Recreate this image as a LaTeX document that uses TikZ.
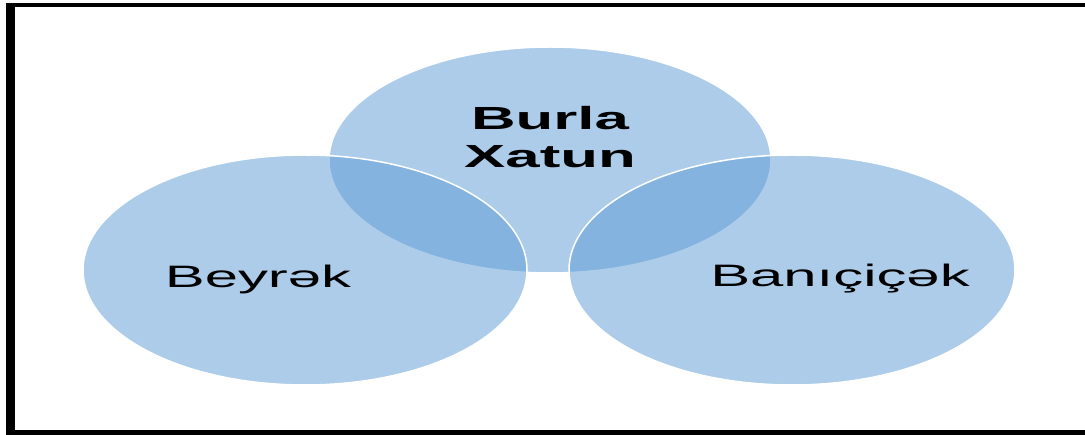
\documentclass[tikz,border=0pt]{standalone}
\usepackage{fontspec}
\setmainfont{Liberation Sans}
\definecolor{vennblue}{HTML}{5B9BD5}
\begin{document}
\begin{tikzpicture}[x=1pt,y=-1pt,
  venn/.style={fill=vennblue, fill opacity=0.5, draw=white, draw opacity=1, line width=1.5pt},
  lbl/.style={inner sep=0pt, xscale=1.93, text=black},
  framebar/.style={fill=black}]
\useasboundingbox (0,0) rectangle (1085,435);
\fill[white] (0,0) rectangle (1085,435);
% frame lines (top, left, bottom)
\path[framebar] (6,3) rectangle (1085,7);
\path[framebar] (6,3) rectangle (15,435);
\path[framebar] (6,430) rectangle (1085,435);
% three overlapping sets
\path[venn] (550,160) ellipse [x radius=221, y radius=113];
\path[venn] (305,270) ellipse [x radius=222, y radius=115];
\path[venn] (792,270) ellipse [x radius=223, y radius=115];
% labels
\node[lbl, align=center, font=\bfseries\fontsize{32}{38}\selectfont] (burla) at (550,137) {Burla\\Xatun};
\node[lbl, anchor=base, font=\fontsize{31}{36}\selectfont] (beyrek) at (258,288) {Beyrək};
\node[lbl, anchor=base, font=\fontsize{31}{36}\selectfont] (banicicek) at (840,287) {Banıçiçək};
\end{tikzpicture}
\end{document}
